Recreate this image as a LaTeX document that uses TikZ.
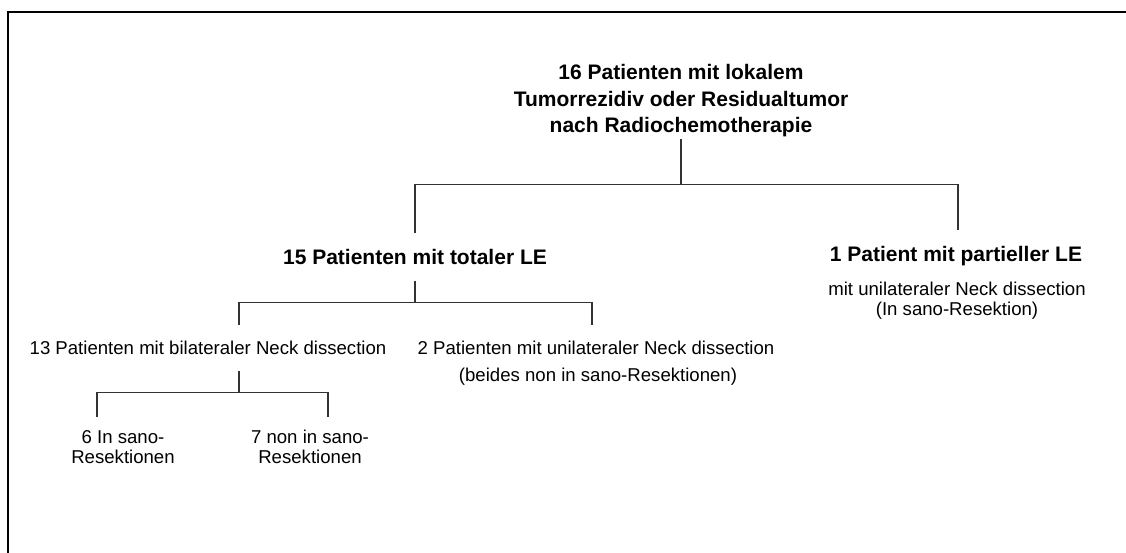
\documentclass[tikz,border=0pt]{standalone}
\usepackage{fontspec}
\setmainfont{Liberation Sans}
\usetikzlibrary{positioning}

\tikzset{
  head/.style={font=\fontsize{21}{26.5}\selectfont\bfseries, align=center, inner sep=0pt, outer ysep=16pt},
  txt/.style={font=\fontsize{18.6}{20}\selectfont, align=center, inner sep=0pt, outer ysep=16pt},
  conn/.style={draw=black!80, line width=1.2pt},
}

\begin{document}
\begin{tikzpicture}[x=1pt,y=-1pt]
  \useasboundingbox (0,0) rectangle (1126,553);
  % frame
  \draw[line width=2pt] (8,553) -- (8,12.5) -- (1126,12.5);

  \node[head, outer ysep=2pt] (top) at (681,101) {16 Patienten mit lokalem\\Tumorrezidiv oder Residualtumor\\nach Radiochemotherapie};
  \node[head] (tot) at (415,257) {15 Patienten mit totaler LE};
  \node[head] (part) at (956,256) {1 Patient mit partieller LE};
  \node[txt] (partsub) at (957,301) {mit unilateraler Neck dissection\\(In sano-Resektion)};
  \node[txt] (bil) at (208,348) {13 Patienten mit bilateraler Neck dissection};
  \node[txt] (uni) at (596,348) {2 Patienten mit unilateraler Neck dissection};
  \node[txt] (unisub) at (598,377) {(beides non in sano-Resektionen)};
  \node[txt, outer ysep=13pt] (sano) at (123,447) {6 In sano-\\Resektionen};
  \node[txt, outer ysep=13pt] (nonsano) at (310,447) {7 non in sano-\\Resektionen};

  \draw[conn] (top.south) -- ++(0,45) coordinate (j1);
  \draw[conn] (j1) -| (tot.north);
  \draw[conn] (j1) -| ([xshift=2pt]part.north);

  \draw[conn] (tot.south) -- ++(0,22) coordinate (j2);
  \draw[conn] (j2) -| ([xshift=31pt]bil.north);
  \draw[conn] (j2) -| ([xshift=-4pt]uni.north);

  \draw[conn] ([xshift=31pt]bil.south) -- ++(0,22) coordinate (j3);
  \draw[conn] (j3) -| ([xshift=-26pt]sano.north);
  \draw[conn] (j3) -| ([xshift=18pt]nonsano.north);
\end{tikzpicture}
\end{document}
